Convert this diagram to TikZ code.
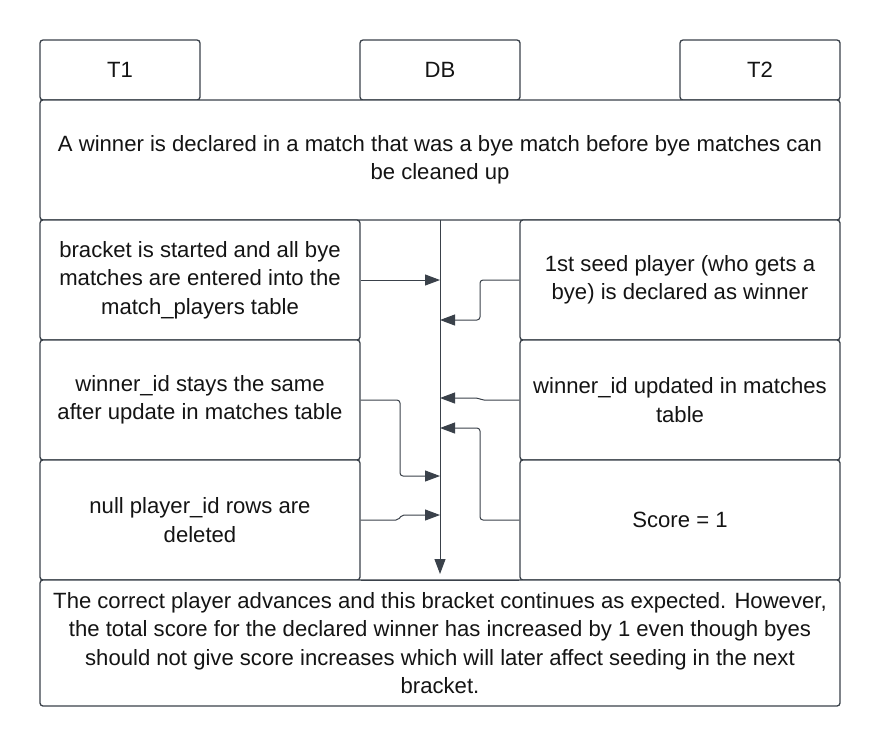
\documentclass[tikz,border=0pt]{standalone}
\usepackage{fontspec}
\setmainfont{Liberation Sans}
\usetikzlibrary{arrows.meta}
\definecolor{edge}{RGB}{58,65,74}
\definecolor{txt}{RGB}{20,20,20}
\begin{document}
\begin{tikzpicture}[x=1pt,y=-1pt,
  box/.style={draw=edge,line width=1.3pt,rounded corners=3pt,fill=white,
    align=center,font=\fontsize{22.1}{28.5}\selectfont,text=txt,inner sep=0pt},
  conn/.style={draw=edge,line width=1pt,-{Triangle[length=15pt,width=11pt]}}]
\useasboundingbox (0,0) rectangle (880,745);
% header tabs
\node[box,minimum width=160pt,minimum height=60pt] (t1) at (120,70) {T1};
\node[box,minimum width=160pt,minimum height=60pt] (db) at (440,70) {DB};
\node[box,minimum width=160pt,minimum height=60pt] (t2) at (760,70) {T2};
% title
\node[box,minimum width=800pt,minimum height=120pt] (title) at (440,160)
  {A winner is declared in a match that was a bye match before bye matches can\\be cleaned up};
% left column
\node[box,minimum width=320pt,minimum height=120pt] (l1) at (200,280)
  {bracket is started and all bye\\matches are entered into the\\match\_players table};
\node[box,minimum width=320pt,minimum height=120pt] (l2) at (200,400)
  {winner\_id stays the same\\after update in matches table};
\node[box,minimum width=320pt,minimum height=120pt] (l3) at (200,520)
  {null player\_id rows are\\deleted};
% right column
\node[box,minimum width=320pt,minimum height=120pt] (r1) at (680,280)
  {1st seed player (who gets a\\bye) is declared as winner};
\node[box,minimum width=320pt,minimum height=120pt] (r2) at (680,400)
  {winner\_id updated in matches\\table};
\node[box,minimum width=320pt,minimum height=120pt] (r3) at (680,520)
  {Score = 1};
% bottom
\node[box,minimum width=800pt,minimum height=126pt] (bottom) at (440,643)
  {The correct player advances and this bracket continues as expected. However,\\the total score for the declared winner has increased by 1 even though byes\\should not give score increases which will later affect seeding in the next\\bracket.};
% DB lifeline
\coordinate (ltop) at (440,220);
\coordinate (lbot) at (440,574);
\draw[conn] (ltop) -- (lbot);
\draw[edge,line width=1.3pt] (l3.south east) -- (r3.south west);
% arrows
\coordinate (a1) at (440,280);
\coordinate (a2) at (440,320);
\coordinate (a3) at (440,398);
\coordinate (a4) at (440,476);
\coordinate (a5) at (440,428);
\coordinate (a6) at (440,515);
\draw[conn] (l1.east) -- (a1);
\draw[conn,rounded corners=3pt] (r1.west) -- (480,280) -- (480,320) -- (a2);
\draw[conn,rounded corners=2pt] (r2.west) -- (482,400) -- (478,398) -- (a3);
\draw[conn,rounded corners=3pt] (l2.east) -- (400,400) -- (400,476) -- (a4);
\draw[conn,rounded corners=3pt] (r3.west) -- (480,520) -- (480,428) -- (a5);
\draw[conn,rounded corners=2pt] (l3.east) -- (398,520) -- (402,515) -- (a6);
\end{tikzpicture}
\end{document}
